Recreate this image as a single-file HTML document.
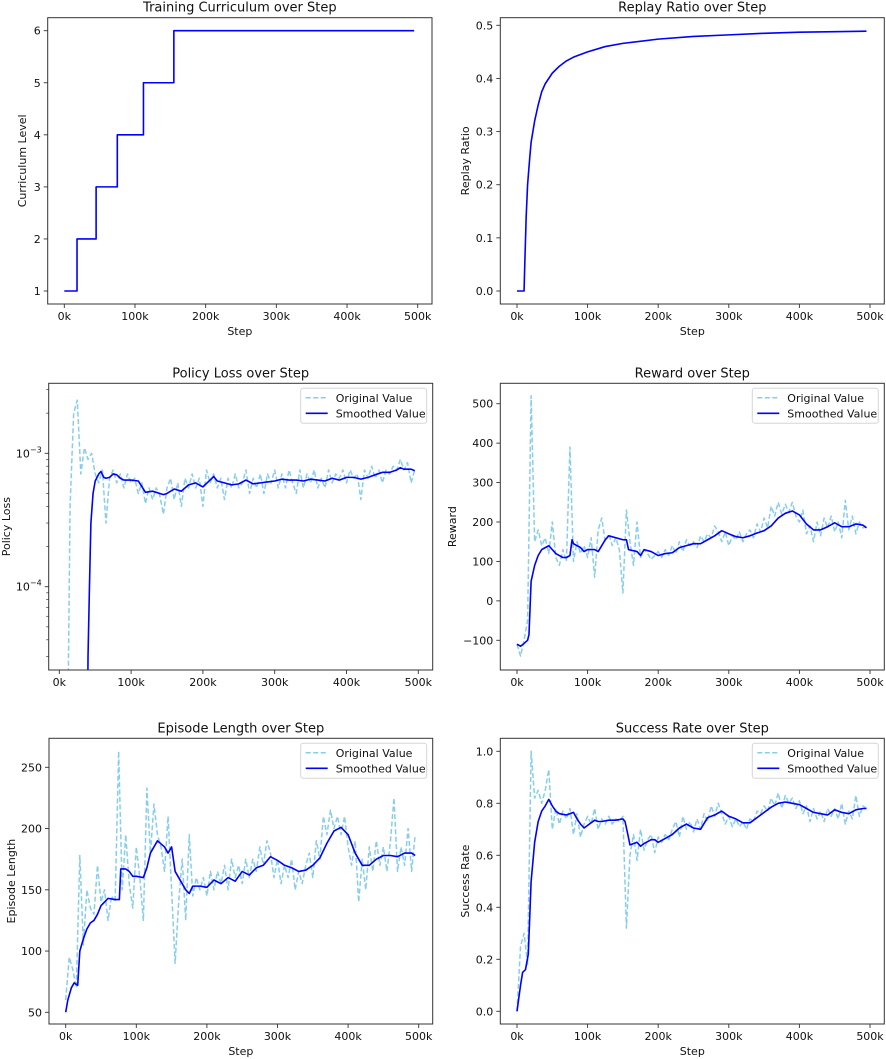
<!DOCTYPE html>
<html><head><meta charset="utf-8">
<style>
html,body{margin:0;padding:0;background:#fff;}
svg{display:block;font-family:"DejaVu Sans","Liberation Sans",sans-serif;}
</style></head>
<body>
<svg id="fig" width="886" height="1059" viewBox="0 0 886 1059" xmlns="http://www.w3.org/2000/svg"></svg>
<script>
// ---------- data ----------
const curriculumSteps = [0, 18, 18, 45, 45, 75, 75, 112, 112, 155, 155, 495];
const curriculumLevels = [1, 1, 2, 2, 3, 3, 4, 4, 5, 5, 6, 6];

const replaySteps = [0, 10, 11, 13, 15, 18, 20, 25, 30, 35, 40, 50, 60, 70, 80, 100, 125, 150, 200, 250, 300, 350, 400, 450, 495];
const replayValues = [0, 0, 0.05, 0.14, 0.2, 0.25, 0.28, 0.32, 0.35, 0.375, 0.39, 0.41, 0.423, 0.433, 0.44, 0.45, 0.46, 0.466, 0.474, 0.479, 0.482, 0.485, 0.487, 0.488, 0.489];

const gridSteps = [];
for (let s = 0; s <= 495; s += 5) gridSteps.push(s);

const policyOriginal = [0.01,0.01,0.01,4,20,25,7,11,9,10,7,6,7.5,3,6.5,7.5,6,7,5.5,7,6,6.5,5,6,4.2,5.5,4.5,5.5,4.8,3.5,5.5,6.5,4.5,6,4,6.5,5.5,7,5.5,6.5,4,7.5,6,7,5.5,6.5,4.5,6.5,5.5,7,5.5,6,7.5,5,6.5,5.5,7,5,7,6,7.5,5.5,7,5.5,7.5,6,5,7.5,5.5,7,6,7.5,5.5,6.5,5.5,7.5,6,7,6.5,7.5,6,7.5,6.5,7,4.5,7.5,6.5,8,6.5,7.5,6,7.5,7,8,7.5,9,7.5,8.5,6,7.5];
const policySmoothSteps = [38,40,42,44,47,50,55,58,62,65,70,75,80,85,90,100,110,120,130,140,145,150,160,170,180,190,200,210,215,220,230,240,250,260,270,280,290,300,310,320,330,340,350,360,370,380,390,400,410,420,430,440,450,460,470,475,480,490,495];
const policySmoothed = [0.01,0.3,1.0,3,5,6.2,7,7.3,6.6,6.5,6.6,7,6.9,6.5,6.3,6.3,6.2,5.1,5.2,5,4.9,5,5.4,5.2,5.8,6,5.6,6.3,6.7,6.2,6,5.8,5.9,6.3,5.9,6,6.1,6.2,6.4,6.3,6.3,6.2,6.4,6.3,6.2,6.5,6.3,6.6,6.6,6.4,6.6,6.9,7.2,7.2,7.5,7.8,7.6,7.6,7.4];

const rewardOriginal = [-110,-140,-100,-50,520,150,180,140,160,120,200,110,90,130,100,390,100,150,120,140,110,160,60,180,210,150,170,140,160,130,20,230,150,90,200,110,130,120,105,115,125,110,130,115,140,120,150,125,155,140,150,135,165,150,170,160,190,175,150,175,140,165,155,175,150,170,180,160,195,175,210,185,240,215,250,220,245,225,250,215,200,230,170,190,150,200,165,210,185,215,175,200,160,255,180,215,170,200,185,190];
const rewardSmoothSteps = [0,5,10,15,17,20,25,30,35,40,45,50,55,60,65,70,75,78,80,90,95,100,110,115,120,125,130,140,150,155,158,170,175,180,190,200,210,220,230,240,250,260,270,280,290,300,310,320,330,340,350,360,370,380,390,400,410,420,430,440,450,460,470,480,490,495];
const rewardSmoothed = [-110,-115,-108,-100,-85,50,90,115,130,135,140,130,120,115,110,110,115,155,145,135,125,130,130,125,140,155,165,160,155,155,130,125,115,130,125,115,120,122,135,140,145,145,155,165,178,170,163,160,165,172,178,190,210,222,228,218,195,180,180,188,198,188,188,195,192,185];

const lengthOriginal = [60,95,85,70,178,105,150,135,130,170,140,150,125,145,140,263,150,195,155,135,185,160,125,233,180,220,195,185,165,210,150,90,140,175,125,195,145,160,150,160,145,165,150,165,155,170,150,175,160,170,155,175,160,175,165,185,170,190,180,160,175,155,170,160,175,150,165,155,170,180,160,190,175,210,195,215,200,210,195,210,185,170,190,140,175,150,185,165,190,170,185,165,190,225,165,185,170,200,165,195];
const lengthSmoothSteps = [0,3,8,12,17,20,25,30,35,40,45,50,55,60,70,76,78,85,90,95,100,110,115,120,130,140,145,150,155,160,170,175,180,190,200,210,220,230,240,250,260,270,280,290,300,310,320,330,340,350,360,370,380,390,400,410,420,430,440,450,460,470,480,490,495];
const lengthSmoothed = [50,60,70,74,72,100,110,118,123,125,130,137,140,143,142,142,167,167,165,161,161,160,168,180,190,185,180,185,165,160,150,147,153,153,152,158,155,160,157,165,162,168,170,177,174,170,168,165,166,170,176,188,198,201,195,180,170,170,175,178,178,177,180,180,178];

const successOriginal = [0,0.25,0.3,0.18,1.0,0.82,0.85,0.8,0.85,0.93,0.7,0.78,0.72,0.77,0.74,0.78,0.68,0.76,0.67,0.72,0.75,0.72,0.78,0.7,0.74,0.72,0.75,0.72,0.74,0.73,0.75,0.32,0.6,0.68,0.58,0.7,0.62,0.66,0.68,0.61,0.67,0.65,0.68,0.66,0.7,0.73,0.67,0.75,0.7,0.73,0.69,0.74,0.7,0.76,0.73,0.79,0.75,0.8,0.76,0.72,0.75,0.71,0.74,0.71,0.73,0.7,0.74,0.73,0.77,0.76,0.79,0.77,0.82,0.79,0.84,0.78,0.83,0.8,0.82,0.78,0.81,0.76,0.79,0.73,0.78,0.74,0.77,0.73,0.78,0.75,0.78,0.74,0.8,0.72,0.77,0.74,0.83,0.75,0.79,0.78];
const successSmoothSteps = [0,5,8,12,16,20,25,30,35,40,45,50,55,60,70,80,85,90,95,100,110,115,120,130,140,150,153,157,160,165,170,175,180,190,195,200,210,220,230,240,250,260,270,280,290,300,310,320,330,340,350,360,370,380,390,400,410,420,430,440,450,460,470,480,490,495];
const successSmoothed = [0,0.1,0.15,0.16,0.22,0.5,0.65,0.73,0.77,0.79,0.815,0.79,0.77,0.76,0.755,0.765,0.74,0.72,0.705,0.715,0.735,0.73,0.73,0.735,0.735,0.74,0.73,0.68,0.64,0.645,0.65,0.635,0.645,0.66,0.66,0.65,0.665,0.68,0.705,0.72,0.705,0.7,0.745,0.755,0.77,0.75,0.74,0.725,0.725,0.745,0.765,0.785,0.8,0.805,0.8,0.795,0.78,0.765,0.76,0.755,0.775,0.765,0.76,0.775,0.78,0.78];

const xTickValues = [0, 100, 200, 300, 400, 500];
const xTickLabels = ["0k", "100k", "200k", "300k", "400k", "500k"];

// ---------- drawing ----------
const NS = "http://www.w3.org/2000/svg";
const svg = document.getElementById("fig");
function mk(tag, attrs, parent) {
  const e = document.createElementNS(NS, tag);
  for (const k in attrs) e.setAttribute(k, attrs[k]);
  (parent || svg).appendChild(e);
  return e;
}
let clipId = 0;

function panel(cfg) {
  const g = mk("g", {});
  
  
  const xs = v => cfg.x0 + (v - 0) / 500 * (cfg.x500 - cfg.x0);
  let ys;
  if (cfg.log) {
    ys = v => cfg.yA - (Math.log10(v) - cfg.vA) / (cfg.vB - cfg.vA) * (cfg.yA - cfg.yB);
  } else {
    ys = v => cfg.yA + (v - cfg.vA) / (cfg.vB - cfg.vA) * (cfg.yB - cfg.yA);
  }
  const id = "clip" + (clipId++);
  const cp = mk("clipPath", { id: id }, g);
  mk("rect", { x: cfg.L, y: cfg.T, width: cfg.R - cfg.L, height: cfg.B - cfg.T }, cp);

  // series
  cfg.series.forEach(s => {
    const pts = s.xs.map((xv, i) => xs(xv).toFixed(2) + "," + Math.max(-2000, Math.min(3000, ys(s.ys[i]))).toFixed(2)).join(" ");
    const pl = mk("polyline", { points: pts, fill: "none", stroke: s.color, "stroke-width": s.w, "stroke-linejoin": "round", "clip-path": "url(#" + id + ")" }, g);
    if (s.dash) pl.setAttribute("stroke-dasharray", s.dash);
    
    
  });

  // frame
  const fr = mk("rect", { x: cfg.L, y: cfg.T, width: cfg.R - cfg.L, height: cfg.B - cfg.T, fill: "none", stroke: "#333", "stroke-width": 1 }, g);
  
  

  // x ticks
  xTickValues.forEach((v, i) => {
    const x = xs(v);
    mk("line", { x1: x, x2: x, y1: cfg.B, y2: cfg.B + 4, stroke: "#333", "stroke-width": 0.9 }, g);
    const t = mk("text", { x: x, y: cfg.B + 16, "font-size": 11, "text-anchor": "middle", fill: "#111" }, g);
    t.textContent = xTickLabels[i];
    
    
  });
  // y ticks
  cfg.yTicks.forEach((v, i) => {
    const y = cfg.log ? ys(v) : ys(v);
    mk("line", { x1: cfg.L - 4, x2: cfg.L, y1: y, y2: y, stroke: "#333", "stroke-width": 0.9 }, g);
    const t = mk("text", { x: cfg.L - 7, y: y + 4, "font-size": 11, "text-anchor": "end", fill: "#111" }, g);
    if (cfg.log) {
      t.textContent = "10";
      const sp = mk("tspan", { dy: -5, "font-size": 8 }, t);
      sp.textContent = cfg.yTickLabels[i];
    } else {
      t.textContent = cfg.yTickLabels[i];
    }
    
    
  });
  if (cfg.minor) {
    cfg.minor.forEach(v => {
      const y = ys(v);
      if (y > cfg.T && y < cfg.B) mk("line", { x1: cfg.L - 2.5, x2: cfg.L, y1: y, y2: y, stroke: "#333", "stroke-width": 0.7 }, g);
    });
  }
  // title & labels
  const tt = mk("text", { x: (cfg.L + cfg.R) / 2, y: cfg.T - 6, "font-size": 13, "text-anchor": "middle", fill: "#111" }, g);
  tt.textContent = cfg.title;
  
  
  const xl = mk("text", { x: (cfg.L + cfg.R) / 2, y: cfg.B + 31, "font-size": 11, "text-anchor": "middle", fill: "#111" }, g);
  xl.textContent = "Step";
  
  
  const yl = mk("text", { x: 0, y: 0, "font-size": 11, "text-anchor": "middle", fill: "#111", transform: "translate(" + cfg.ylx + "," + (cfg.T + cfg.B) / 2 + ") rotate(-90)" }, g);
  yl.textContent = cfg.ylabel;
  
  

  // legend
  if (cfg.legend) {
    const lg = mk("g", {}, g);
    
    
    const lx = cfg.R - 132, ly = cfg.T + 5;
    mk("rect", { x: lx, y: ly, width: 126, height: 35, rx: 2.5, fill: "#fff", "fill-opacity": 0.8, stroke: "#d6d6d6", "stroke-width": 1 }, lg);
    mk("line", { x1: lx + 5, x2: lx + 27, y1: ly + 9.5, y2: ly + 9.5, stroke: "#87ceeb", "stroke-width": 1.5, "stroke-dasharray": "5,2.5" }, lg);
    mk("line", { x1: lx + 5, x2: lx + 27, y1: ly + 25, y2: ly + 25, stroke: "#0000ff", "stroke-width": 1.6 }, lg);
    const a = mk("text", { x: lx + 35, y: ly + 13.5, "font-size": 11, fill: "#111" }, lg);
    a.textContent = "Original Value";
    
    
    const b = mk("text", { x: lx + 35, y: ly + 29, "font-size": 11, fill: "#111" }, lg);
    b.textContent = "Smoothed Value";
    
    
  }
}

const ORIG = "#87ceeb", SM = "#0000ff";

panel({ name: "curriculum-chart", L: 47.7, R: 432, T: 17.7, B: 304, x0: 64.3, x500: 417.7,
  yA: 291, vA: 1, yB: 30.7, vB: 6, yTicks: [1,2,3,4,5,6], yTickLabels: ["1","2","3","4","5","6"],
  title: "Training Curriculum over Step", ylabel: "Curriculum Level", ylx: 26,
  series: [{ name: "curriculum-line", xs: curriculumSteps, ys: curriculumLevels, color: SM, w: 1.6 }] });

panel({ name: "replay-ratio-chart", L: 500.3, R: 884.3, T: 17.7, B: 304, x0: 517, x500: 870,
  yA: 291, vA: 0, yB: 25.3, vB: 0.5, yTicks: [0,0.1,0.2,0.3,0.4,0.5], yTickLabels: ["0.0","0.1","0.2","0.3","0.4","0.5"],
  title: "Replay Ratio over Step", ylabel: "Replay Ratio", ylx: 469,
  series: [{ name: "replay-ratio-line", xs: replaySteps, ys: replayValues, color: SM, w: 1.6 }] });

const minorLog = [];
[1e-5, 1e-4, 1e-3].forEach(d => { for (let k = 2; k <= 9; k++) minorLog.push(d * k); });

panel({ name: "policy-loss-chart", L: 48.7, R: 432.7, T: 383.3, B: 670, x0: 59.3, x500: 418.3, log: true,
  yA: 586.7, vA: -4, yB: 453.3, vB: -3, yTicks: [1e-4, 1e-3], yTickLabels: ["\u22124", "\u22123"], minor: minorLog,
  title: "Policy Loss over Step", ylabel: "Policy Loss", ylx: 10, legend: true,
  series: [
    { name: "policy-loss-original", xs: gridSteps, ys: policyOriginal.map(v => v * 1e-4), color: ORIG, w: 1.5, dash: "5,2.5" },
    { name: "policy-loss-smoothed", xs: policySmoothSteps, ys: policySmoothed.map(v => v * 1e-4), color: SM, w: 1.6 }] });

panel({ name: "reward-chart", L: 500.3, R: 884.3, T: 383.3, B: 670, x0: 517, x500: 870,
  yA: 640.3, vA: -100, yB: 403.7, vB: 500, yTicks: [-100,0,100,200,300,400,500], yTickLabels: ["\u2212100","0","100","200","300","400","500"],
  title: "Reward over Step", ylabel: "Reward", ylx: 456, legend: true,
  series: [
    { name: "reward-original", xs: gridSteps, ys: rewardOriginal, color: ORIG, w: 1.5, dash: "5,2.5" },
    { name: "reward-smoothed", xs: rewardSmoothSteps, ys: rewardSmoothed, color: SM, w: 1.6 }] });

// mask for clipped row-2 axis titles
mk("rect", { x: 0, y: 693, width: 886, height: 22, fill: "#fff" });

panel({ name: "episode-length-chart", L: 49, R: 432.7, T: 738.3, B: 1024, x0: 65.7, x500: 418.7,
  yA: 1012.3, vA: 50, yB: 767.3, vB: 250, yTicks: [50,100,150,200,250], yTickLabels: ["50","100","150","200","250"],
  title: "Episode Length over Step", ylabel: "Episode Length", ylx: 15, legend: true,
  series: [
    { name: "episode-length-original", xs: gridSteps, ys: lengthOriginal, color: ORIG, w: 1.5, dash: "5,2.5" },
    { name: "episode-length-smoothed", xs: lengthSmoothSteps, ys: lengthSmoothed, color: SM, w: 1.6 }] });

panel({ name: "success-rate-chart", L: 500.3, R: 884.3, T: 738.3, B: 1024, x0: 517, x500: 870,
  yA: 1011.3, vA: 0, yB: 751.3, vB: 1.0, yTicks: [0,0.2,0.4,0.6,0.8,1.0], yTickLabels: ["0.0","0.2","0.4","0.6","0.8","1.0"],
  title: "Success Rate over Step", ylabel: "Success Rate", ylx: 469, legend: true,
  series: [
    { name: "success-rate-original", xs: gridSteps, ys: successOriginal, color: ORIG, w: 1.5, dash: "5,2.5" },
    { name: "success-rate-smoothed", xs: successSmoothSteps, ys: successSmoothed, color: SM, w: 1.6 }] });
</script>
</body></html>
